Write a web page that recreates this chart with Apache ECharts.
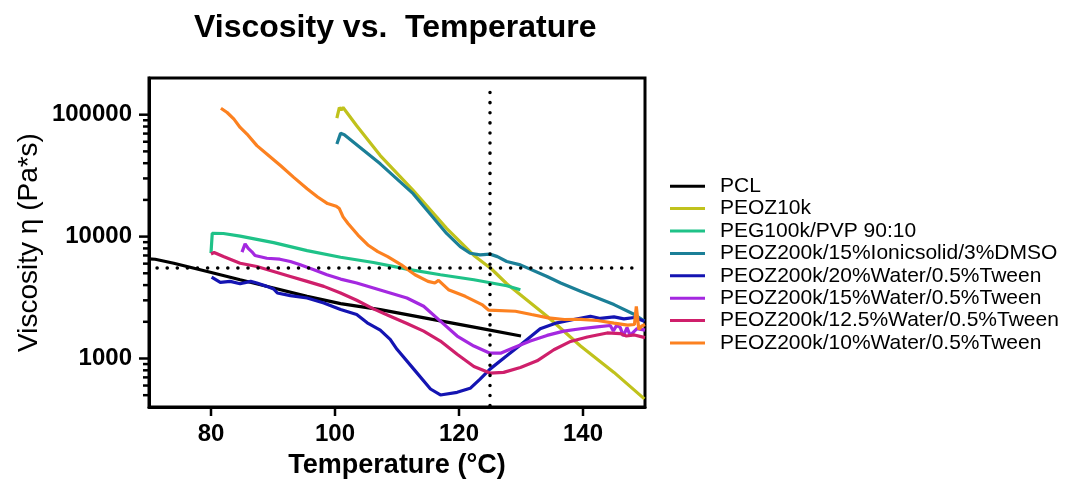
<!DOCTYPE html>
<html>
<head>
<meta charset="utf-8">
<script src="https://cdn.jsdelivr.net/npm/echarts@6/dist/echarts.min.js"></script>
<style>
  html, body { margin: 0; padding: 0; background: #fff; }
  #chart { width: 1068px; height: 484px; }
</style>
</head>
<body>
<div id="chart"></div>
<script>
// Viscosity (Pa*s) against temperature (°C), pairs of [temperature, viscosity]
const seriesNames = [
  'PCL',
  'PEOZ10k',
  'PEG100k/PVP 90:10',
  'PEOZ200k/15%Ionicsolid/3%DMSO',
  'PEOZ200k/20%Water/0.5%Tween',
  'PEOZ200k/15%Water/0.5%Tween',
  'PEOZ200k/12.5%Water/0.5%Tween',
  'PEOZ200k/10%Water/0.5%Tween'
];

const pcl = [[70,6560],[71,6520],[74,6050],[79.4,5175],[84.7,4425],[90.1,3784],[95.5,3236],[100.9,2820],[107.3,2520],[117,2037],[123.5,1765],[130,1530]];

const peoz10k = [[100.3,93800],[100.7,114500],[101.0,109000],[101.3,114500],[103.5,81130],[107.3,46200],[112.6,23950],[118,11670],[122.4,7000],[125.2,5450],[127.7,4105],[134.2,2223],[139.6,1266],[145,769],[149.9,466]];

const peg100kPvp = [[80.0,7310],[80.2,10640],[82,10600],[84.7,10100],[90.1,8917],[95.5,7673],[100.9,6771],[106.2,6127],[111.6,5407],[117,4861],[122.4,4425],[127.7,3954],[129.9,3668]];

const peoz200kIonic = [[100.3,57540],[100.9,70300],[101.5,68500],[107.3,39510],[112.6,22500],[118,10620],[120.2,8270],[121.8,7300],[123.4,7075],[125,7180],[126.2,6850],[127.7,6243],[129.9,5864],[134.2,4711],[136.4,4160],[139.6,3555],[145,2768],[148.3,2294],[149.9,2025]];

const peoz200kWater20 = [[80.1,4652],[80.2,4481],[81.5,4209],[83.1,4289],[84.7,4105],[86.4,4289],[87.4,4157],[89,3905],[90.1,3714],[90.7,3445],[92.8,3277],[95.5,3136],[98.2,2856],[100.9,2520],[103.5,2294],[105.2,1962],[107.3,1710],[108.9,1435],[110,1189],[112.7,818],[115.4,562],[117,502],[119.7,528],[121.8,569],[123.4,678],[125,818],[127.7,1051],[129.9,1290],[133.1,1753],[135.8,1962],[138.5,2088],[141.2,2223],[142.8,2130],[145,2196],[146.6,2115],[148.3,2170],[149.9,2025]];

const peoz200kWater15 = [[85.0,7450],[85.5,8710],[86.0,8000],[86.6,7500],[87.1,7000],[89,6646],[91.1,6523],[92.8,6243],[94.4,5864],[96.6,5340],[98.7,4861],[100.9,4481],[103.5,4157],[106.2,3784],[108.9,3445],[111.6,3136],[114.3,2683],[117,2025],[119.7,1528],[122.4,1266],[125,1105],[126.7,1105],[128.8,1227],[131.5,1391],[134.2,1547],[136.9,1678],[139.6,1753],[142.3,1820],[144.4,1866],[144.9,1680],[145.4,1860],[146.0,1800],[146.5,1530],[147.1,1790],[147.6,1550],[148.7,1760],[150,1711]];

const peoz200kWater125 = [[80.0,7210],[80.5,7393],[82,6857],[84.7,6050],[87.4,5683],[90.1,5175],[92.8,4711],[95.5,4289],[98.2,3905],[100.9,3445],[103.5,3003],[106.2,2552],[108.9,2223],[111.6,1938],[114.3,1678],[117,1391],[119.7,1084],[122.4,860],[125,759],[127.2,769],[129.9,844],[132.6,957],[135.3,1180],[138,1380],[140.7,1500],[143.9,1620],[146,1600],[147,1530],[148.3,1560],[150,1483]];

const peoz200kWater10 = [[81.6,113000],[82.6,104200],[83.7,91920],[84.7,78630],[85.8,69370],[87.4,55740],[89,47670],[91.2,38290],[93.3,30760],[95.5,24720],[97.2,21130],[98.8,18660],[100.2,17750],[100.7,16980],[101.3,14520],[102.1,12820],[103.7,10300],[105.3,8535],[106.9,7530],[108.5,6857],[110.7,5864],[112.9,4861],[115,4289],[116.1,4157],[116.7,4370],[118.3,3668],[121,3236],[123.7,2768],[124.8,2489],[129.1,2442],[131.7,2294],[134.4,2155],[137,2088],[139.6,2090],[142.3,2050],[145,1950],[147.2,1880],[148.3,1900],[148.6,2670],[149.0,1735],[149.5,1850],[150,1900]];

const seriesData = [pcl, peoz10k, peg100kPvp, peoz200kIonic, peoz200kWater20, peoz200kWater15, peoz200kWater125, peoz200kWater10];
const seriesColors = ['#000000', '#c0c21c', '#1fc288', '#1b7f97', '#1414b2', '#a428e0', '#cf1f6b', '#fc8120'];

// Axis ranges and tick positions
const xMin = 70, xMax = 150;
const yMin = 400, yMax = 200000;
const xTicks = [80, 100, 120, 140];
const yMajorTicks = [1000, 10000, 100000];
const yMinorTicks = [500, 600, 700, 800, 900, 2000, 3000, 4000, 5000, 6000, 7000, 8000, 9000,
                     20000, 30000, 40000, 50000, 60000, 70000, 80000, 90000];

// Dotted reference lines
const refTemperature = 125;
const refViscosity = 5500;
const refTempSpan = [410, 170000];
const refViscSpan = [71.3, 148.7];

const FONT = '"Liberation Sans", Arial, sans-serif';

// Tick marks: [x, y, kind] with kind 0 = x tick, 1 = major y tick, 2 = minor y tick
const tickData = [
  ...xTicks.map(v => [v, yMin, 0]),
  ...yMajorTicks.map(v => [xMin, v, 1]),
  ...yMinorTicks.map(v => [xMin, v, 2])
];

const lineSeries = seriesNames.map((name, i) => ({
  name,
  type: 'line',
  data: seriesData[i],
  showSymbol: false,
  symbol: 'none',
  color: seriesColors[i],
  lineStyle: { width: 3.2, color: seriesColors[i] },
  z: 3,
  silent: true
}));

const dots = { color: '#000', width: 3.5, type: [0.1, 10], cap: 'round' };

const chart = echarts.init(document.getElementById('chart'), null, { renderer: 'canvas' });
chart.setOption({
  animation: false,
  backgroundColor: '#ffffff',
  title: {
    text: 'Viscosity vs.  Temperature',
    left: 194,
    top: 12,
    padding: 0,
    textStyle: { fontFamily: FONT, fontSize: 32, fontWeight: 'bold', color: '#000' }
  },
  legend: {
    orient: 'vertical',
    left: 665,
    top: 170,
    itemWidth: 35,
    itemHeight: 3,
    itemGap: 0,
    icon: 'rect',
    selectedMode: false,
    data: seriesNames,
    textStyle: { fontFamily: FONT, fontSize: 21, lineHeight: 22.4, color: '#000', padding: [0, 0, 0, 10] }
  },
  grid: {
    left: 149, top: 78, width: 496, height: 330,
    show: true, borderColor: '#000', borderWidth: 3, backgroundColor: 'transparent'
  },
  xAxis: {
    type: 'value',
    min: xMin, max: xMax,
    splitNumber: 4,
    name: 'Temperature (°C)',
    nameLocation: 'middle',
    nameGap: 45,
    nameTextStyle: { fontFamily: FONT, fontSize: 27, fontWeight: 'bold', color: '#000' },
    axisLine: { show: true, lineStyle: { color: '#000', width: 3 } },
    axisTick: { show: false },
    splitLine: { show: false },
    axisLabel: {
      margin: 15,
      fontFamily: FONT, fontSize: 24, fontWeight: 'bold', color: '#000',
      showMinLabel: false, showMaxLabel: false,
      formatter: v => (xTicks.indexOf(Math.round(v)) >= 0 ? String(Math.round(v)) : '')
    }
  },
  yAxis: {
    type: 'log',
    logBase: 10,
    min: yMin, max: yMax,
    name: 'Viscosity η (Pa*s)',
    nameLocation: 'middle',
    nameGap: 106,
    nameRotate: 90,
    nameTextStyle: { fontFamily: FONT, fontSize: 28, color: '#000' },
    axisLine: { show: true, lineStyle: { color: '#000', width: 3 } },
    axisTick: { show: false },
    splitLine: { show: false },
    minorTick: { show: false },
    axisLabel: {
      margin: 17,
      fontFamily: FONT, fontSize: 24, fontWeight: 'bold', color: '#000',
      showMinLabel: false, showMaxLabel: false,
      formatter: v => {
        const hit = yMajorTicks.find(t => Math.abs(Math.log10(v) - Math.log10(t)) < 1e-6);
        return hit ? String(hit) : '';
      }
    }
  },
  series: [
    ...lineSeries,
    {
      name: 'reference',
      type: 'line',
      data: [],
      silent: true,
      markLine: {
        silent: true,
        symbol: 'none',
        label: { show: false },
        lineStyle: dots,
        data: [
          [{ coord: [refTemperature, refTempSpan[0]] }, { coord: [refTemperature, refTempSpan[1]] }],
          [{ coord: [refViscSpan[0], refViscosity] }, { coord: [refViscSpan[1], refViscosity] }]
        ]
      }
    },
    {
      name: 'ticks',
      type: 'custom',
      silent: true,
      clip: false,
      z: 5,
      data: tickData,
      renderItem: (params, api) => {
        const p = api.coord([api.value(0), api.value(1)]);
        const kind = api.value(2);
        let shape;
        if (kind === 0) shape = { x1: p[0], y1: p[1], x2: p[0], y2: p[1] + 9 };
        else if (kind === 1) shape = { x1: p[0], y1: p[1], x2: p[0] - 10, y2: p[1] };
        else shape = { x1: p[0], y1: p[1], x2: p[0] - 6, y2: p[1] };
        return { type: 'line', shape, style: { stroke: '#000', lineWidth: 2.5 } };
      }
    }
  ]
});
</script>
</body>
</html>
